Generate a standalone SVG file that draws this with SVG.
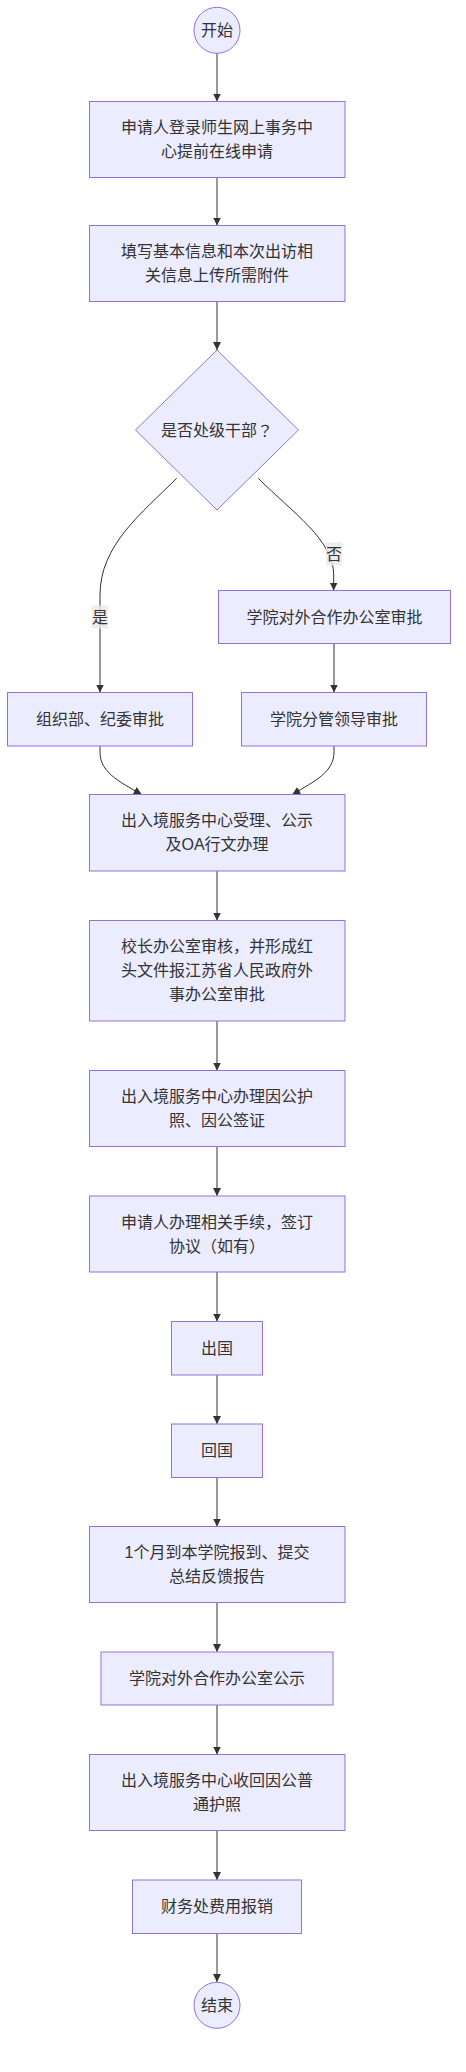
<svg xmlns="http://www.w3.org/2000/svg" width="466" height="2072" viewBox="0 0 466 2072">
<style>
.node rect,.node circle,.node polygon{fill:#ECECFF;stroke:#9370DB;stroke-width:1}
.node text,.lbl text{font-family:"Liberation Sans","Noto Sans CJK SC",sans-serif;font-size:16px;fill:#333;text-anchor:middle;dominant-baseline:central}
.edges path{fill:none;stroke:#333;stroke-width:1;marker-end:url(#arrow)}
.lbl rect{fill:#e8e8e8;opacity:0.8}
.q{font-family:"Noto Sans CJK JP",sans-serif}
</style>
<defs>
<marker id="arrow" viewBox="0 0 10 10" refX="10" refY="5" markerUnits="userSpaceOnUse" markerWidth="8" markerHeight="8" orient="auto">
<path d="M0,0 L10,5 L0,10 z" fill="#333"/>
</marker>
</defs>
<rect width="466" height="2072" fill="#fff"/>
<g id="edges" class="edges">
<path d="M217,53.3 L217,101.5"/>
<path d="M217,177.5 L217,225.5"/>
<path d="M217,301.5 L217,350"/>
<path d="M176.7,478.3 C141.7,513.3 100,545 100,595 L100,692.5"/>
<path d="M258.3,478.3 C293,513 333.7,540 333.7,575 L333.7,590.5"/>
<path d="M334,643.5 L334,692.5"/>
<path d="M100,746 L100,752 C100,772 118,781 141.7,794.5"/>
<path d="M334,746 L334,752 C334,772 315,781 292.3,794.5"/>
<path d="M217,871 L217,920.5"/>
<path d="M217,1021 L217,1070.5"/>
<path d="M217,1146.5 L217,1196"/>
<path d="M217,1272 L217,1321.5"/>
<path d="M217,1375 L217,1424"/>
<path d="M217,1477.5 L217,1526.5"/>
<path d="M217,1602.5 L217,1652"/>
<path d="M217,1705 L217,1754.5"/>
<path d="M217,1830.5 L217,1880"/>
<path d="M217,1933.5 L217,1982"/>
</g>
<g id="edge-labels">
<g class="lbl" id="label-yes"><rect x="92" y="605.5" width="16" height="23"/><text x="100" y="617">是</text></g>
<g class="lbl" id="label-no"><rect x="326" y="542.5" width="16" height="23"/><text x="334" y="554">否</text></g>
</g>
<g id="start" class="node"><circle cx="217" cy="30.3" r="23"/><text x="217" y="30.3">开始</text></g>
<g id="n1" class="node"><rect x="89.5" y="101.5" width="255.5" height="76"/><text x="217" y="127.5">申请人登录师生网上事务中</text><text x="217" y="151.5">心提前在线申请</text></g>
<g id="n2" class="node"><rect x="89.5" y="225.5" width="255.5" height="76"/><text x="217" y="251.5">填写基本信息和本次出访相</text><text x="217" y="275.5">关信息上传所需附件</text></g>
<g id="d1" class="node"><polygon points="217,350 298.5,430 217,510 135.5,430"/><text x="217" y="430">是否处级干部<tspan class="q">？</tspan></text></g>
<g id="n3" class="node"><rect x="218.5" y="590.5" width="232" height="53"/><text x="334.5" y="617">学院对外合作办公室审批</text></g>
<g id="n4" class="node"><rect x="7.5" y="692.5" width="185" height="53.5"/><text x="100" y="719.2">组织部、纪委审批</text></g>
<g id="n5" class="node"><rect x="241.5" y="692.5" width="185" height="53.5"/><text x="334" y="719.2">学院分管领导审批</text></g>
<g id="n6" class="node"><rect x="89.5" y="794.5" width="255.5" height="76.5"/><text x="217" y="820.8">出入境服务中心受理、公示</text><text x="217" y="844.8">及OA行文办理</text></g>
<g id="n7" class="node"><rect x="89.5" y="920.5" width="255.5" height="100.5"/><text x="217" y="946.8">校长办公室审核，并形成红</text><text x="217" y="970.8">头文件报江苏省人民政府外</text><text x="217" y="994.8">事办公室审批</text></g>
<g id="n8" class="node"><rect x="89.5" y="1070.5" width="255.5" height="76"/><text x="217" y="1096.5">出入境服务中心办理因公护</text><text x="217" y="1120.5">照、因公签证</text></g>
<g id="n9" class="node"><rect x="89.5" y="1196" width="255.5" height="76"/><text x="217" y="1222">申请人办理相关手续，签订</text><text x="217" y="1246">协议（如有）</text></g>
<g id="n10" class="node"><rect x="171.5" y="1321.5" width="91" height="53.5"/><text x="217" y="1348.2">出国</text></g>
<g id="n11" class="node"><rect x="171.5" y="1424" width="91" height="53.5"/><text x="217" y="1450.7">回国</text></g>
<g id="n12" class="node"><rect x="89.5" y="1526.5" width="255.5" height="76"/><text x="217" y="1552.5">1个月到本学院报到、提交</text><text x="217" y="1576.5">总结反馈报告</text></g>
<g id="n13" class="node"><rect x="101" y="1652" width="232" height="53"/><text x="217" y="1678.5">学院对外合作办公室公示</text></g>
<g id="n14" class="node"><rect x="89.5" y="1754.5" width="255.5" height="76"/><text x="217" y="1780.5">出入境服务中心收回因公普</text><text x="217" y="1804.5">通护照</text></g>
<g id="n15" class="node"><rect x="132.5" y="1880" width="169" height="53.5"/><text x="217" y="1906.7">财务处费用报销</text></g>
<g id="end" class="node"><circle cx="217" cy="2005.3" r="23"/><text x="217" y="2005.3">结束</text></g>
</svg>
